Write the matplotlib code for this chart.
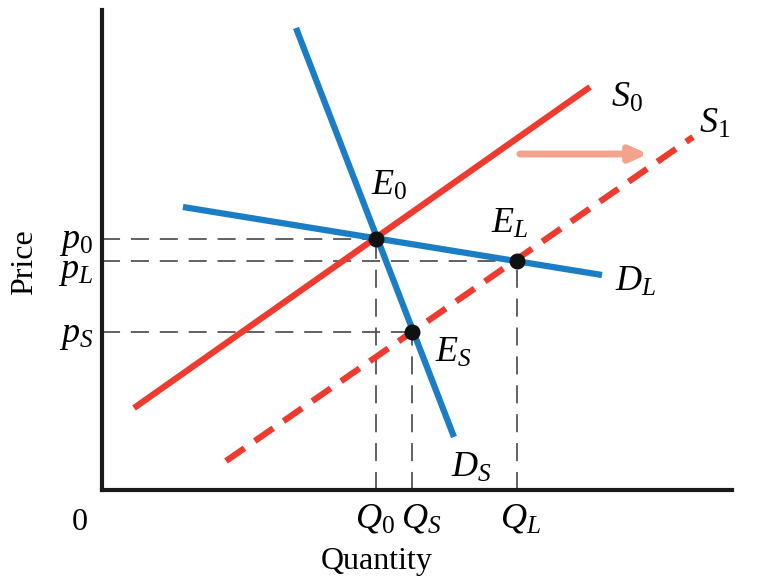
import numpy as np
import matplotlib
matplotlib.use('Agg')
import matplotlib.pyplot as plt

plt.rcParams['font.family'] = ['Liberation Serif', 'DejaVu Serif']
plt.rcParams['mathtext.fontset'] = 'custom'
plt.rcParams['mathtext.rm'] = 'Liberation Serif'
plt.rcParams['mathtext.it'] = 'Liberation Serif:italic'

# curve endpoints (quantity, price)
s0_q = [3.2, 48.8]
s0_p = [8.2, 40.3]
s1_q = [12.4, 59.1]
s1_p = [2.9, 35.3]
dl_q = [8.1, 50.0]
dl_p = [28.3, 21.5]
ds_q = [19.4, 35.2]
ds_p = [46.2, 5.3]

# equilibria: E0, EL, ES
eq_names = ['E_0', 'E_L', 'E_S']
eq_q = [27.4, 41.5, 31.0]
eq_p = [25.1, 22.9, 15.8]

# shift arrow
arrow_q = [41.8, 54.6]
arrow_p = 33.6

red = '#EE3B2F'
blue = '#1B7DC4'
grey = '#555555'

fig = plt.figure(figsize=(7.6, 5.78), dpi=100)
ax = fig.add_axes([102 / 760, 88 / 578, 630 / 760, 480 / 578])
ax.set_xlim(0, 63)
ax.set_ylim(0, 48)
for side in ['top', 'right']:
    ax.spines[side].set_visible(False)
for side in ['left', 'bottom']:
    ax.spines[side].set_linewidth(3)
    ax.spines[side].set_color('#1a1a1a')
ax.set_xticks([])
ax.set_yticks([])

# dashed guide lines
for q, p in zip(eq_q, eq_p):
    ax.plot([0, q], [p, p], color=grey, lw=1.3, dashes=(10, 6), zorder=1)
    ax.plot([q, q], [0, p], color=grey, lw=1.3, dashes=(10, 6), zorder=1)

ax.plot(s0_q, s0_p, color=red, lw=4.5, solid_capstyle='butt', zorder=2)
ax.plot(s1_q, s1_p, color=red, lw=4.5, dashes=(3.6, 2.0), dash_capstyle='butt', zorder=2)
ax.plot(dl_q, dl_p, color=blue, lw=4.5, solid_capstyle='butt', zorder=3)
ax.plot(ds_q, ds_p, color=blue, lw=4.5, solid_capstyle='butt', zorder=3)
ax.plot(eq_q, eq_p, 'o', color='#111111', ms=10.5, zorder=4)

ax.annotate('', xy=(arrow_q[1], arrow_p), xytext=(arrow_q[0], arrow_p),
            arrowprops=dict(arrowstyle='-|>,head_length=1.0,head_width=0.45',
                            color='#F4A28C', lw=5, shrinkA=0, shrinkB=0))

fs = 23
ms_ = 26
ax.text(50.9, 39.2, r'$S_0$', fontsize=ms_, va='center', ha='left')
ax.text(59.7, 36.6, r'$S_1$', fontsize=ms_, va='center', ha='left')
ax.text(26.9, 30.4, r'$E_0$', fontsize=ms_, va='center', ha='left')
ax.text(38.9, 26.6, r'$E_L$', fontsize=ms_, va='center', ha='left')
ax.text(33.3, 13.7, r'$E_S$', fontsize=ms_, va='center', ha='left')
ax.text(51.3, 20.8, r'$D_L$', fontsize=ms_, va='center', ha='left')
ax.text(34.9, 2.2, r'$D_S$', fontsize=ms_, va='center', ha='left')

# axis value labels
ax.text(-0.9, 24.9, r'$p_0$', fontsize=ms_, va='center', ha='right', clip_on=False)
ax.text(-0.9, 21.9, r'$p_L$', fontsize=ms_, va='center', ha='right', clip_on=False)
ax.text(-0.9, 15.4, r'$p_S$', fontsize=ms_, va='center', ha='right', clip_on=False)
ax.text(eq_q[0] - 0.1, -2.9, r'$Q_0$', fontsize=ms_, va='center', ha='center', clip_on=False)
ax.text(eq_q[2] + 0.9, -2.9, r'$Q_S$', fontsize=ms_, va='center', ha='center', clip_on=False)
ax.text(eq_q[1] + 0.3, -2.9, r'$Q_L$', fontsize=ms_, va='center', ha='center', clip_on=False)
ax.text(-2.2, -3.2, '0', fontsize=fs, va='center', ha='center', clip_on=False)

ax.text(27.5, -7.2, 'Quantity', fontsize=fs, va='center', ha='center', clip_on=False)
ax.text(-7.7, 22.8, 'Price', fontsize=fs, va='center', ha='center', rotation=90, clip_on=False)

fig.savefig('out.png', dpi=100)
